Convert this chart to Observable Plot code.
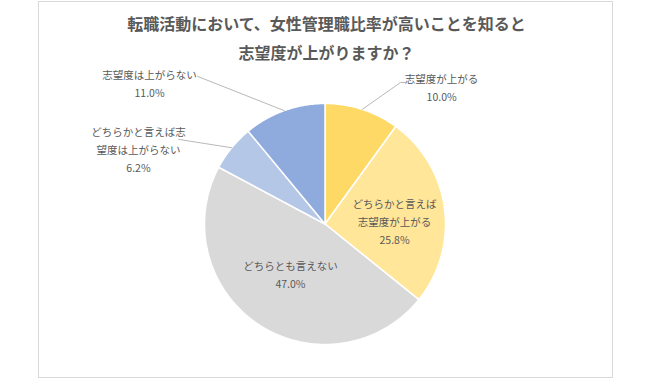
<!DOCTYPE html>
<html>
<head>
<meta charset="utf-8">
<script src="https://cdn.jsdelivr.net/npm/d3@7"></script>
<script src="https://cdn.jsdelivr.net/npm/@observablehq/plot@0.6"></script>
<style>
  html, body { margin: 0; padding: 0; background: #fff; }
  #wrap { position: relative; width: 650px; height: 380px; overflow: hidden; font-family: "Noto Sans CJK JP", "Noto Sans", sans-serif; }
  #frame { position: absolute; left: 38px; top: 1px; width: 575px; height: 377px; border: 1px solid #d9d9d9; box-sizing: border-box; }
  #title { position: absolute; left: 38px; width: 577px; top: 9px; text-align: center; font-size: 16px; line-height: 29px; font-weight: bold; color: #595959; }
  #chart { position: absolute; left: 0; top: 0; }
</style>
</head>
<body>
<div id="wrap">
  <div id="frame"></div>
  <div id="chart"></div>
  <div id="title">転職活動において、女性管理職比率が高いことを知ると<br>志望度が上がりますか？</div>
</div>
<script>
// ---- data ----
const categories = [
  "志望度が上がる",
  "どちらかと言えば志望度が上がる",
  "どちらとも言えない",
  "どちらかと言えば志望度は上がらない",
  "志望度は上がらない"
];
const values = [10.0, 25.8, 47.0, 6.2, 11.0];
const labelLines = [
  ["志望度が上がる"],
  ["どちらかと言えば", "志望度が上がる"],
  ["どちらとも言えない"],
  ["どちらかと言えば志", "望度は上がらない"],
  ["志望度は上がらない"]
];
const palette = ["#FFD966", "#FFE699", "#D9D9D9", "#B4C7E7", "#8FAADC"];

// ---- label layout (polar, relative to slice mid-angle; r in pie radii) ----
const labelLayout = [
  {dA: 22.3, r: 1.496, leader: [{dA: 0, r: 1}, {dA: 10.1, r: 1.331}, {dA: 11.6, r: 1.351}]},
  {dA: 4.7, r: 0.578, leader: null},
  {dA: 1.7, r: 0.497, leader: null},
  {dA: -17.2, r: 1.670, leader: [{dA: 0, r: 1}, {dA: -9.2, r: 1.403}]},
  {dA: -31.3, r: 1.871, leader: [{dA: 0, r: 1}, {dA: -21.0, r: 1.618}]}
];

// ---- geometry ----
const total = d3.sum(values);
const rad = Math.PI / 180;
const polar = (deg, r) => ({x: r * Math.sin(deg * rad), y: r * Math.cos(deg * rad)});

let acc = 0;
const slices = values.map((v, i) => {
  const a0 = acc / total * 360;
  acc += v;
  const a1 = acc / total * 360;
  return {cat: categories[i], value: v, a0, a1, mid: (a0 + a1) / 2, i};
});

const slicePts = [];
for (const s of slices) {
  slicePts.push({cat: s.cat, ...polar(0, 0)});
  const n = Math.max(2, Math.ceil((s.a1 - s.a0) / 0.5));
  for (let k = 0; k <= n; k++) {
    const a = s.a0 + (s.a1 - s.a0) * k / n;
    slicePts.push({cat: s.cat, ...polar(a, 1)});
  }
}

const labels = slices.map(s => {
  const L = labelLayout[s.i];
  const p = polar(s.mid + L.dA, L.r);
  return {x: p.x, y: p.y, text: [...labelLines[s.i], s.value.toFixed(1) + "%"].join("\n")};
});

const leaderPts = [];
slices.forEach(s => {
  const L = labelLayout[s.i];
  if (!L.leader) return;
  L.leader.forEach(q => leaderPts.push({cat: s.cat, ...polar(s.mid + q.dA, q.r)}));
});

const cx = 324.5, cy = 223.5, R = 120.5;

const chart = Plot.plot({
  width: 650,
  height: 380,
  margin: 0,
  style: {background: "transparent"},
  x: {domain: [-1, 1], range: [cx - R, cx + R], axis: null},
  y: {domain: [-1, 1], range: [cy + R, cy - R], axis: null},
  color: {domain: categories, range: palette},
  marks: [
    Plot.line(slicePts, {x: "x", y: "y", z: "cat", fill: "cat", stroke: "white", strokeWidth: 1.5, curve: "linear-closed"}),
    Plot.line(leaderPts, {x: "x", y: "y", z: "cat", stroke: "#a6a6a6", strokeWidth: 0.8}),
    Plot.text(labels, {x: "x", y: "y", text: "text", fill: "#595959", fontSize: 10.5, lineHeight: 1.72, fontFamily: "Noto Sans CJK JP", textAnchor: "middle", lineAnchor: "middle"})
  ]
});
document.getElementById("chart").appendChild(chart);
</script>
</body>
</html>
